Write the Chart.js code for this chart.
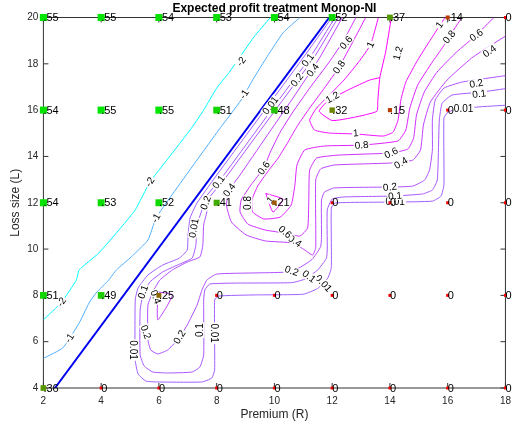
<!DOCTYPE html>
<html>
<head>
<meta charset="utf-8">
<script src="https://cdn.jsdelivr.net/npm/chart.js@4.4.0/dist/chart.umd.min.js"></script>
<style>
html,body{margin:0;padding:0;background:#fff}
#wrap{width:518px;height:432px}
</style>
</head>
<body>
<div id="wrap"><canvas id="c" width="518" height="432"></canvas></div>
<script>
// grid of the treatment
var premiums = [2,4,6,8,10,12,14,16,18];
var lossSizes = [4,8,12,16,20];
// share at each cell, one row per loss size, columns follow premiums
var shareL4  = [.36,0,0,0,0,0,0,0,0];
var shareL8  = [.51,.49,.25,0,0,0,0,0,0];
var shareL12 = [.54,.53,.52,.41,.21,0,0,0,0];
var shareL16 = [.54,.55,.55,.51,.48,.32,.15,0,0];
var shareL20 = [.55,.55,.54,.53,.54,.52,.37,.14,0];

var xTicks = [2,4,6,8,10,12,14,16,18];
var yTicks = [4,6,8,10,12,14,16,18,20];

// contour lines of expected profit as (R, L) points
var contourM2 = [[[2.0,6.94],[2.63,7.71],[3.14,8.66],[3.24,9.10],[3.92,9.83],[4.70,10.95],[5.18,11.69],[5.69,12.90],[6.06,13.50],[7.08,15.14],[7.55,16.0],[8.0,16.95],[8.44,17.64],[9.29,19.16],[9.86,20]]];
var contourM1 = [[[2.0,5.28],[2.67,5.73],[3.24,6.81],[3.58,7.67],[3.82,8.10],[4.26,8.66],[4.53,9.10],[5.04,9.66],[5.62,10.39],[5.90,11.34],[6.40,12.25],[8.07,15.14],[8.85,16.44],[9.25,17.31],[9.79,18.39],[10.30,19.34],[10.88,20]]];
var contourZero = [[[2.4,4],[11.9,20]]];
var contour001 = [[[11.99,20],[10.99,18.25],[9.97,16.52],[8.95,14.80],[7.93,13.07],[7.32,11.99],[7.08,11.34],[7.01,10.61],[6.98,9.96],[6.71,9.61],[6.13,9.31],[5.62,8.88],[5.28,8.32],[5.18,7.80],[5.18,5.21],[5.28,4.60],[5.55,4.30],[5.96,4.26],[7.49,4.26],[7.83,4.43],[7.93,4.78],[7.93,7.80],[8.07,7.97],[9.36,8.02],[11.0,8.05],[11.5,8.3],[11.85,8.75],[11.97,9.2],[11.97,11.77],[12.10,11.99],[14.11,12.03],[15.47,12.07],[15.77,12.29],[15.87,12.77],[15.87,15.66],[16.01,15.92],[16.21,16.0],[16.99,16.13],[18.12,16.22]]];
var contour01 = [[[12.10,20],[11.22,18.25],[10.20,16.52],[9.19,14.80],[8.17,13.07],[7.59,12.20],[7.49,11.69],[7.32,11.04],[7.28,10.17],[7.15,9.61],[6.64,9.31],[6.13,9.01],[5.69,8.58],[5.45,8.02],[5.35,7.37],[5.35,5.43],[5.49,4.95],[5.79,4.69],[6.30,4.65],[7.15,4.69],[7.42,4.91],[7.55,5.43],[7.55,7.80],[7.59,8.23],[7.76,8.49],[8.68,8.53],[10.6,8.55],[11.05,8.7],[11.5,9.1],[11.8,9.6],[11.83,10.0],[11.83,11.69],[12.0,12.16],[12.41,12.25],[14.11,12.29],[15.13,12.38],[15.47,12.55],[15.64,12.98],[15.68,14.28],[15.71,15.57],[15.81,16.30],[16.15,16.65],[17.17,16.78],[18.12,16.95]]];
var contour02 = [[[12.21,20],[11.36,18.25],[10.34,16.52],[9.32,14.80],[8.30,13.07],[7.69,12.12],[7.66,11.60],[7.55,11.04],[7.52,10.17],[7.42,9.66],[6.98,9.44],[6.47,9.10],[6.03,8.66],[5.79,8.15],[5.62,7.58],[5.62,6.07],[5.72,5.64],[5.96,5.47],[6.30,5.64],[6.64,6.07],[6.98,6.72],[7.32,7.58],[7.49,8.23],[7.66,8.66],[8.0,8.92],[9.36,8.97],[10.3,9.0],[10.8,9.15],[11.3,9.55],[11.6,10.1],[11.63,10.5],[11.63,12.12],[11.73,12.46],[12.07,12.64],[14.11,12.68],[14.79,12.72],[15.20,12.98],[15.37,13.41],[15.47,14.28],[15.47,15.57],[15.57,16.44],[15.87,16.95],[16.49,17.21],[18.12,17.51]]];
var contour04 = [
  [[5.96,8.15],[6.47,8.02],[5.96,6.94],[5.96,8.15]],
  [[12.35,20],[11.56,18.25],[10.64,16.52],[9.69,14.80],[8.81,13.20],[8.44,12.55],[8.34,11.90],[8.51,11.17],[9.02,10.61],[9.69,10.35],[10.64,10.26],[11.05,9.96],[11.32,9.74],[11.43,10.05],[11.43,12.98],[11.60,13.46],[12.07,13.63],[14.11,13.72],[14.79,13.84],[15.06,14.28],[15.16,15.36],[15.40,16.35],[15.98,17.30],[16.83,18.25],[17.51,18.81],[18.12,19.29]]
];
var contour06 = [[[12.82,20],[12.41,19.03],[11.90,18.08],[11.22,16.95],[10.64,15.92],[10.20,15.05],[9.86,14.19],[9.63,13.50],[9.19,12.77],[8.85,12.12],[8.81,11.60],[9.08,11.08],[9.69,10.82],[10.37,10.69],[10.88,10.56],[11.15,10.91],[11.19,12.12],[11.22,13.41],[11.46,13.93],[12.24,14.06],[14.04,14.15],[14.62,14.32],[14.82,14.79],[14.92,15.79],[15.19,16.78],[15.63,17.64],[16.31,18.51],[16.99,19.24],[17.60,20]]];
var contour08 = [[[13.16,20],[12.75,19.03],[12.24,17.86],[11.73,16.95],[11.22,16.09],[10.81,15.35],[10.47,14.62],[10.13,13.93],[9.76,13.33],[9.42,12.72],[9.22,12.12],[9.25,11.60],[9.63,11.30],[10.20,11.38],[10.58,11.90],[10.71,12.77],[10.78,13.63],[11.05,14.28],[11.73,14.45],[13.02,14.49],[14.28,14.67],[14.55,15.14],[14.69,16.09],[14.96,17.08],[15.47,18.08],[15.81,18.68],[16.05,19.16],[16.32,19.68],[16.49,20]]];
var contour1 = [
  [[13.60,20],[13.33,18.83],[12.93,18.10],[12.41,17.30],[11.90,16.65],[11.46,16.09],[11.22,15.57],[11.39,15.14],[11.90,15.01],[12.82,14.97],[13.77,14.88],[14.11,15.05],[14.28,15.57],[14.38,16.44],[14.55,17.21],[14.96,18.16],[15.40,19.03],[15.74,19.68],[15.91,20]],
  [[9.7,12.4],[10.3,12.15],[9.95,11.6],[9.7,12.4]]
];
var contour12 = [[[14.05,20],[13.85,18.5],[13.65,17.4],[13.58,16.4],[13.55,15.95],[12.8,15.7],[12.0,15.55],[11.55,15.95],[11.85,16.4],[12.6,16.9],[13.3,17.3],[13.65,17.4]]];

// inline contour labels: text, R, L, angle
var contourLabels = [
  ['-2',2.63,7.71,-55],['-2',5.69,12.90,-58],['-2',8.85,18.10,-55],
  ['-1',2.90,6.16,-57],['-1',5.90,11.34,-62],['-1',8.95,16.69,-58],
  ['0.01',9.86,16.20,-53],['0.01',7.21,10.91,-80],['0.01',5.11,5.64,90],['0.01',7.93,6.37,90],['0.01',11.70,8.52,48],['0.01',14.18,12.03,0],['0.01',16.55,16.05,0],
  ['0.1',11.16,18.16,-53],['0.1',8.07,12.90,-53],['0.1',5.45,8.15,-70],['0.1',7.42,6.50,-90],['0.1',11.2,8.82,38],['0.1',14.18,12.30,-6],['0.1',17.09,16.70,-8],
  ['0.2',10.78,17.30,-53],['0.2',7.62,12.0,-70],['0.2',5.55,6.42,70],['0.2',6.71,6.20,-58],['0.2',10.6,9.06,20],['0.2',14.0,12.68,-6],['0.2',16.99,17.15,-12],
  ['0.4',11.33,17.73,-53],['0.4',8.44,12.55,-53],['0.4',5.89,7.93,70],['0.4',10.71,10.35,35],['0.4',14.38,13.72,-30],['0.4',17.45,18.55,-35],
  ['0.6',12.48,18.92,-50],['0.6',9.63,13.50,-55],['0.6',10.37,10.74,40],['0.6',14.04,14.15,-25],['0.6',16.99,19.24,-35],
  ['0.8',12.24,17.86,-55],['0.8',9.08,11.99,-90],['0.8',13.02,14.49,-5],['0.8',16.05,19.16,-50],
  ['1',13.33,18.83,-65],['1',12.82,15.01,-5],['1',15.71,19.68,-55],['1',9.86,12.12,-50],
  ['1.2',12.01,16.55,-30],['1.2',14.28,18.46,-75]
];

var levels = [-2,-1,0.01,0.1,0.2,0.4,0.6,0.8,1,1.2];
var levelLines = [contourM2,contourM1,contour001,contour01,contour02,contour04,contour06,contour08,contour1,contour12];

function coolColor(v){
  var t = (v + 2) / 3.2;
  return 'rgb(' + Math.round(255*t) + ',' + Math.round(255*(1-t)) + ',255)';
}

// markers
var rows = [shareL4, shareL8, shareL12, shareL16, shareL20];
var pts = [], ptColors = [], ptSizes = [], ptText = [];
for (var j = 0; j < lossSizes.length; j++) {
  for (var i = 0; i < premiums.length; i++) {
    var v = rows[j][i];
    pts.push({x: premiums[i], y: lossSizes[j]});
    var g = Math.min(1, v / 0.55);
    ptColors.push('rgb(' + Math.round(255*(1-g)) + ',' + Math.round(230*g) + ',0)');
    ptSizes.push((3 + 7.5*v) / 1.414);
    ptText.push(v == 0 ? '0' : String(v).replace('0.', '.'));
  }
}

var datasets = [{
  data: pts,
  pointStyle: 'rect',
  pointRadius: ptSizes,
  pointBackgroundColor: ptColors,
  pointBorderWidth: 0,
  pointBorderColor: ptColors,
  showLine: false,
  clip: false
}];

for (var k = 0; k < levels.length; k++) {
  levelLines[k].forEach(function(line){
    datasets.push({
      data: line.map(function(p){ return {x: p[0], y: p[1]}; }),
      showLine: true,
      pointRadius: 0,
      borderColor: coolColor(levels[k]),
      borderWidth: 1,
      tension: 0.15
    });
  });
}
contourZero.forEach(function(line){
  datasets.push({
    data: line.map(function(p){ return {x: p[0], y: p[1]}; }),
    showLine: true,
    pointRadius: 0,
    borderColor: '#0000f0',
    borderWidth: 2
  });
});

var frame = {
  id: 'frame',
  beforeDatasetsDraw: function(chart){
    var a = chart.chartArea, ctx = chart.ctx;
    var xs = chart.scales.x, ys = chart.scales.y;
    ctx.save();
    ctx.strokeStyle = '#333';
    ctx.lineWidth = 1;
    ctx.strokeRect(a.left, a.top, a.right - a.left, a.bottom - a.top);
    ctx.beginPath();
    xTicks.forEach(function(t){
      var px = xs.getPixelForValue(t);
      ctx.moveTo(px, a.bottom); ctx.lineTo(px, a.bottom - 5);
      ctx.moveTo(px, a.top); ctx.lineTo(px, a.top + 5);
    });
    yTicks.forEach(function(t){
      var py = ys.getPixelForValue(t);
      ctx.moveTo(a.left, py); ctx.lineTo(a.left + 5, py);
      ctx.moveTo(a.right, py); ctx.lineTo(a.right - 5, py);
    });
    ctx.stroke();
    ctx.restore();
  },
  beforeDatasetDraw: function(chart, args){
    if (args.index !== 0) return;
    var ctx = chart.ctx, xs = chart.scales.x, ys = chart.scales.y, a = chart.chartArea;
    ctx.save();
    ctx.beginPath();
    ctx.rect(a.left, a.top, a.right - a.left, a.bottom - a.top);
    ctx.clip();
    ctx.font = '10px "Liberation Sans", Arial, sans-serif';
    ctx.textAlign = 'center';
    ctx.textBaseline = 'middle';
    contourLabels.forEach(function(l){
      var px = xs.getPixelForValue(l[1]), py = ys.getPixelForValue(l[2]);
      var w = ctx.measureText(l[0]).width;
      ctx.save();
      ctx.translate(px, py);
      ctx.rotate(l[3] * Math.PI / 180);
      ctx.fillStyle = '#fff';
      ctx.fillRect(-w/2 - 1, -4.5, w + 2, 9);
      ctx.fillStyle = '#000';
      ctx.fillText(l[0], 0, 0.5);
      ctx.restore();
    });
    ctx.restore();
  },
  afterDatasetsDraw: function(chart){
    var ctx = chart.ctx, xs = chart.scales.x, ys = chart.scales.y, a = chart.chartArea;
    ctx.save();
    ctx.fillStyle = '#000';
    ctx.font = '11px "Liberation Sans", Arial, sans-serif';
    ctx.textAlign = 'left';
    ctx.textBaseline = 'middle';
    pts.forEach(function(p, n){
      ctx.fillText(ptText[n], xs.getPixelForValue(p.x), ys.getPixelForValue(p.y) + 0.5);
    });
    ctx.textAlign = 'center';
    ctx.font = 'bold 12px "Liberation Sans", Arial, sans-serif';
    ctx.fillText('Expected profit treatment Monop-NI', (a.left + a.right) / 2, 9);
    ctx.fillStyle = '#262626';
    ctx.font = '12px "Liberation Sans", Arial, sans-serif';
    ctx.fillText('Premium (R)', (a.left + a.right) / 2, 415);
    ctx.translate(16, (a.top + a.bottom) / 2);
    ctx.rotate(-Math.PI / 2);
    ctx.fillText('Loss size (L)', 0, 0);
    ctx.restore();
  }
};

new Chart(document.getElementById('c'), {
  type: 'scatter',
  data: {datasets: datasets},
  options: {
    responsive: false,
    animation: false,
    devicePixelRatio: 1,
    events: [],
    layout: {padding: {top: 17.5, right: 3.4, left: 0, bottom: 0}},
    plugins: {legend: {display: false}, tooltip: {enabled: false}, title: {display: false}},
    scales: {
      x: {
        type: 'linear', min: 2, max: 18,
        afterBuildTicks: function(s){ s.ticks = xTicks.map(function(v){ return {value: v}; }); },
        afterFit: function(s){ s.height = 44; },
        grid: {display: false, drawTicks: false},
        border: {display: false},
        ticks: {color: '#262626', font: {size: 10, family: '"Liberation Sans", Arial, sans-serif'}, padding: 7, maxRotation: 0}
      },
      y: {
        type: 'linear', min: 4, max: 20,
        afterBuildTicks: function(s){ s.ticks = yTicks.map(function(v){ return {value: v}; }); },
        afterFit: function(s){ s.width = 43.4; },
        grid: {display: false, drawTicks: false},
        border: {display: false},
        ticks: {color: '#262626', font: {size: 10, family: '"Liberation Sans", Arial, sans-serif'}, padding: 5}
      }
    }
  },
  plugins: [frame]
});
</script>
</body>
</html>
